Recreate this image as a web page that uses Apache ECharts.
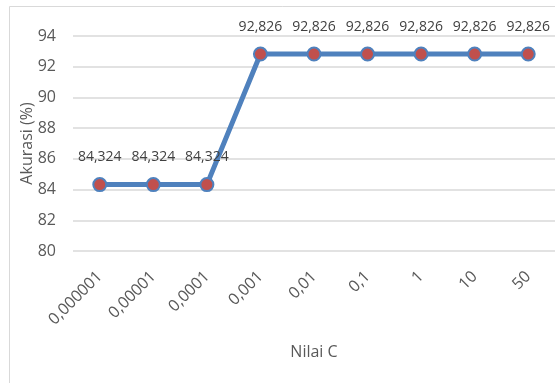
<!DOCTYPE html>
<html>
<head>
<meta charset="utf-8">
<style>
  html, body { margin: 0; padding: 0; background: #fff; }
  #chart { width: 555px; height: 383px; }
</style>
<script src="https://cdn.jsdelivr.net/npm/echarts@6/dist/echarts.min.js"></script>
</head>
<body>
<div id="chart"></div>
<script>
// Accuracy for each value of the SVM parameter C
const categories = ['0,000001', '0,00001', '0,0001', '0,001', '0,01', '0,1', '1', '10', '50'];
const accuracy = [84.324, 84.324, 84.324, 92.826, 92.826, 92.826, 92.826, 92.826, 92.826];
const yTicks = { min: 80, max: 94, step: 2 };

const FONT = '"Open Sans", "Liberation Sans", Arial, sans-serif';
const fmt = v => String(v).replace('.', ',');

const chart = echarts.init(document.getElementById('chart'), null, { renderer: 'canvas' });
chart.setOption({
  animation: false,
  backgroundColor: '#ffffff',
  graphic: [{
    type: 'rect',
    shape: { x: 9.5, y: 6.5, width: 560, height: 400 },
    style: { fill: 'none', stroke: '#d9d9d9', lineWidth: 1 },
    silent: true
  }],
  grid: { left: 73, top: 36, right: -5, bottom: 132 },
  xAxis: {
    type: 'category',
    data: categories,
    boundaryGap: true,
    name: 'Nilai C',
    nameLocation: 'middle',
    nameMoveOverlap: false,
    nameGap: 93,
    nameTextStyle: { color: '#595959', fontSize: 16, fontFamily: FONT },
    axisLine: { show: false },
    axisTick: { show: false },
    axisLabel: {
      rotate: 45,
      margin: 23,
      color: '#595959',
      fontSize: 16,
      fontFamily: FONT
    }
  },
  yAxis: {
    type: 'value',
    min: yTicks.min,
    max: yTicks.max,
    interval: yTicks.step,
    name: 'Akurasi (%)',
    nameLocation: 'middle',
    nameMoveOverlap: false,
    nameGap: 38,
    nameTextStyle: { color: '#595959', fontSize: 16, fontFamily: FONT },
    axisLine: { show: false },
    axisTick: { show: false },
    axisLabel: { color: '#595959', fontSize: 16, fontFamily: FONT, margin: 17 },
    splitLine: { lineStyle: { color: '#d9d9d9', width: 1.5 } }
  },
  series: [{
    type: 'line',
    data: accuracy,
    symbol: 'circle',
    symbolSize: 13,
    lineStyle: { color: '#4f81bd', width: 5 },
    itemStyle: { color: '#c0504d', borderColor: '#4f81bd', borderWidth: 2 },
    label: {
      show: true,
      position: 'top',
      distance: 13,
      color: '#404040',
      fontSize: 14,
      fontFamily: FONT,
      formatter: p => fmt(p.value)
    }
  }]
});
</script>
</body>
</html>
